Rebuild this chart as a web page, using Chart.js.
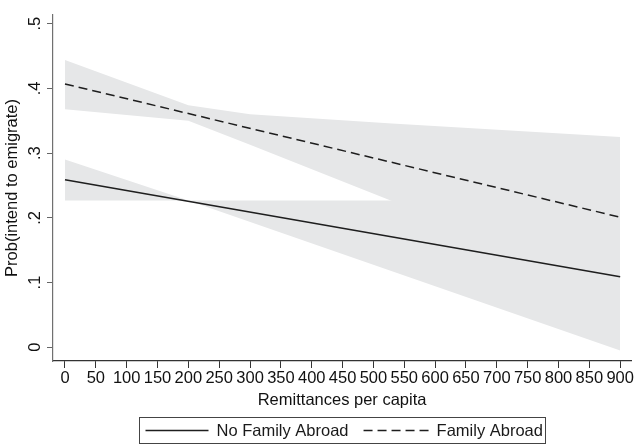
<!DOCTYPE html>
<html><head><meta charset="utf-8">
<script src="https://cdn.jsdelivr.net/npm/chart.js@4/dist/chart.umd.min.js"></script>
<style>html,body{margin:0;padding:0;background:#fff}#c{display:block}</style>
</head><body>
<canvas id="c" width="635" height="447"></canvas>
<script>
// ---- data ----
const seriesNames = ['No Family Abroad', 'Family Abroad'];
const lineX = [0, 900];
const noFamily = [0.259, 0.109];
const family = [0.407, 0.201];
const noFamBandX = [0, 200, 900];
const noFamBandHi = [0.290, 0.227, 0.227];
const noFamBandLo = [0.227, 0.227, -0.005];
const famBandX = [0, 200, 300, 530, 900];
const famBandHi = [0.444, 0.374, 0.360, 0.346, 0.325];
const famBandLo = [0.368, 0.350, 0.313, 0.226, 0.088];
const xTicks = [0,50,100,150,200,250,300,350,400,450,500,550,600,650,700,750,800,850,900];
const yTicks = [0, 0.1, 0.2, 0.3, 0.4, 0.5];
const yTickLabels = ['0', '.1', '.2', '.3', '.4', '.5'];
const xTitle = 'Remittances per capita';
const yTitle = 'Prob(intend to emigrate)';

const FONT = 'Liberation Sans, Arial, Helvetica, sans-serif';
const FS = 16.5;
const BAND = '#e6e7e8';
const INK = '#1e1e1e';
const pts = (xs, ys) => xs.map((x, i) => ({x: x, y: ys[i]}));
const hidden = {borderColor: 'rgba(0,0,0,0)', borderWidth: 0, pointRadius: 0, order: 5};

const legendBox = {
  id: 'legendBox',
  afterDraw(chart) {
    const ctx = chart.ctx;
    const items = [chart.data.datasets[4], chart.data.datasets[5]];
    ctx.save();
    ctx.font = FS + 'px ' + FONT;
    const samples = [63, 65], gap = 8, between = 15, padL = 6, padR = 3;
    const widths = items.map(d => ctx.measureText(d.label).width);
    const total = padL + padR + samples[0] + samples[1] + 2 * gap + widths[0] + widths[1] + between;
    const cx = 342, top = 417.5, h = 26;
    const left = Math.round(cx - total / 2) + 0.5;
    ctx.strokeStyle = '#444';
    ctx.lineWidth = 1;
    ctx.strokeRect(left, top, Math.round(total), h);
    let x = left + padL;
    const y = top + h / 2;
    items.forEach((d, i) => {
      ctx.beginPath();
      ctx.setLineDash(d.borderDash || []);
      ctx.strokeStyle = d.borderColor;
      ctx.lineWidth = d.borderWidth;
      ctx.moveTo(x, y); ctx.lineTo(x + samples[i], y); ctx.stroke();
      ctx.setLineDash([]);
      x += samples[i] + gap;
      ctx.fillStyle = '#1a1a1a';
      ctx.textBaseline = 'middle';
      ctx.textAlign = 'left';
      ctx.fillText(d.label, x, y + 1);
      x += widths[i] + between;
    });
    ctx.restore();
  }
};

new Chart(document.getElementById('c'), {
  type: 'line',
  data: {
    datasets: [
      Object.assign({label: 'nfLo', data: pts(noFamBandX, noFamBandLo), fill: false}, hidden),
      Object.assign({label: 'nfHi', data: pts(noFamBandX, noFamBandHi), fill: '-1', backgroundColor: BAND}, hidden),
      Object.assign({label: 'fLo', data: pts(famBandX, famBandLo), fill: false}, hidden),
      Object.assign({label: 'fHi', data: pts(famBandX, famBandHi), fill: '-1', backgroundColor: BAND}, hidden),
      {label: seriesNames[0], data: pts(lineX, noFamily), borderColor: INK, borderWidth: 1.5, pointRadius: 0, fill: false, order: 0},
      {label: seriesNames[1], data: pts(lineX, family), borderColor: INK, borderWidth: 1.5, borderDash: [9, 5], pointRadius: 0, fill: false, order: 0}
    ]
  },
  options: {
    responsive: false,
    animation: false,
    devicePixelRatio: 1,
    layout: {padding: {top: 8, right: 3, left: 0, bottom: 0}},
    elements: {line: {tension: 0}},
    plugins: {legend: {display: false}, tooltip: {enabled: false}},
    scales: {
      x: {
        type: 'linear', min: -19.42, max: 917.8,
        afterBuildTicks: s => { s.ticks = xTicks.map(v => ({value: v})); },
        afterFit: s => { s.height = 86; },
        ticks: {autoSkip: false, minRotation: 0, maxRotation: 0, padding: 1, color: '#111',
                font: {family: FONT, size: FS}},
        grid: {display: true, drawOnChartArea: false, drawTicks: true, tickLength: 7, tickColor: '#333', tickWidth: 1},
        border: {display: true, color: '#333', width: 1.2},
        title: {display: true, text: xTitle, color: '#111', font: {family: FONT, size: FS}, padding: {top: 0, bottom: 37}}
      },
      y: {
        type: 'linear', min: -0.02121, max: 0.51364,
        afterBuildTicks: s => { s.ticks = yTicks.map(v => ({value: v})); },
        afterFit: s => { s.width = 53; },
        ticks: {minRotation: 90, maxRotation: 90, crossAlign: 'center', padding: 5, color: '#111',
                font: {family: FONT, size: FS},
                callback: (v, i) => yTickLabels[i]},
        grid: {display: true, drawOnChartArea: false, drawTicks: true, tickLength: 6, tickColor: '#666', tickWidth: 1},
        border: {display: true, color: '#707070', width: 1.2},
        title: {display: true, text: yTitle, color: '#111', font: {family: FONT, size: FS}, padding: {top: 3, bottom: 0}}
      }
    }
  },
  plugins: [legendBox]
});
</script>
</body></html>
